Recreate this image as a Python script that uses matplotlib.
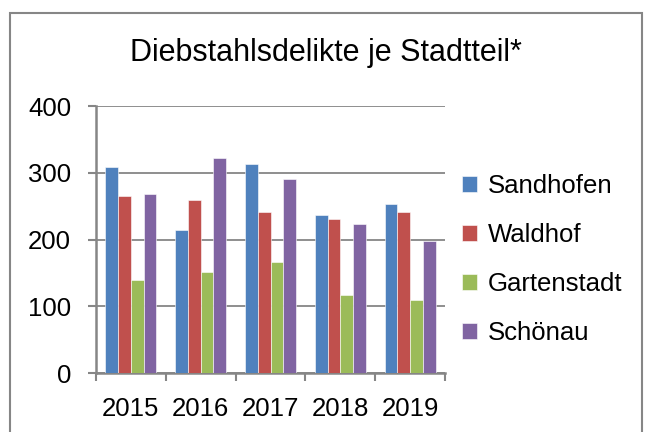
import matplotlib
matplotlib.use("Agg")
import matplotlib.pyplot as plt
from matplotlib.patches import Rectangle
import numpy as np

years = ["2015", "2016", "2017", "2018", "2019"]
series_names = ["Sandhofen", "Waldhof", "Gartenstadt", "Schönau"]
sandhofen = [309, 214, 313, 237, 254]
waldhof = [266, 260, 242, 231, 241]
gartenstadt = [139, 152, 167, 117, 110]
schoenau = [268, 322, 291, 223, 198]
colors = ["#4F81BD", "#C0504D", "#9BBB59", "#8064A2"]
title = "Diebstahlsdelikte je Stadtteil*"
yticks = [0, 100, 200, 300, 400]

plt.rcParams["font.family"] = ["Liberation Sans", "DejaVu Sans"]

W, H = 650, 432
fig = plt.figure(figsize=(W / 100, H / 100), dpi=100)
fig.patch.set_facecolor("white")

x0, x1 = 96, 445
y0, y1 = 373.3, 106
ax = fig.add_axes([x0 / W, 1 - y0 / H, (x1 - x0) / W, (y0 - y1) / H])

data = [sandhofen, waldhof, gartenstadt, schoenau]
x = np.arange(len(years))
bw = 0.182
for i, (vals, c, n) in enumerate(zip(data, colors, series_names)):
    ax.bar(x + (i - 1.5) * bw, vals, width=bw, color=c, label=n,
           edgecolor="white", linewidth=0.4, zorder=3)

fs = 18.5
ax.set_xlim(-0.5, len(years) - 0.5)
ax.set_ylim(0, 400)
ax.set_yticks(yticks)
ax.set_yticklabels([str(v) for v in yticks], fontsize=fs)
ax.set_xticks(x)
ax.set_xticklabels(years, fontsize=fs)
ax.set_xticks(np.arange(len(years) + 1) - 0.5, minor=True)
ax.tick_params(axis="x", which="major", length=0, pad=17)
ax.tick_params(axis="x", which="minor", length=6, width=1.5, color="#868686")
ax.tick_params(axis="y", which="major", length=6, width=1.5, color="#868686", pad=12)

ax.grid(axis="y", color="#868686", linewidth=1.3, zorder=0)
ax.set_axisbelow(True)
for s in ["top", "right"]:
    ax.spines[s].set_visible(False)
for s in ["left", "bottom"]:
    ax.spines[s].set_color("#868686")
    ax.spines[s].set_linewidth(1.8)

leg = fig.legend(loc="upper left", bbox_to_anchor=(462 / W, 1 - 174 / H),
                 frameon=False, fontsize=fs, handlelength=0.6, handleheight=0.6,
                 handletextpad=0.4, labelspacing=0.97, borderaxespad=0,
                 borderpad=0)

fig.text(326 / W, 1 - 53 / H, title, fontsize=22, ha="center", va="center")

rect = Rectangle((9.5 / W, -0.05), (641.5 - 9.5) / W, 1.05 - 12.5 / H,
                 transform=fig.transFigure, fill=False, edgecolor="#868686",
                 linewidth=1.5, clip_on=False)
fig.patches.append(rect)

fig.savefig("out.png", dpi=100)
